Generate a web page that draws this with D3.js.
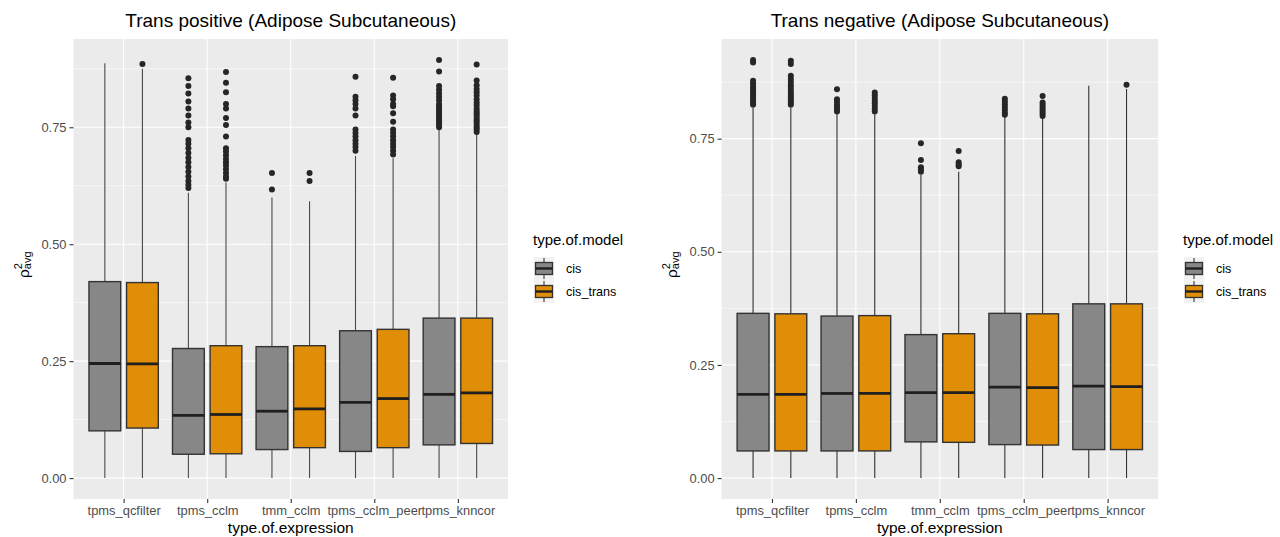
<!DOCTYPE html>
<html>
<head>
<meta charset="utf-8">
<script src="https://cdn.jsdelivr.net/npm/d3@7"></script>
<style>
  body { margin: 0; background: #fff; }
  text { font-family: "Liberation Sans", Arial, sans-serif; }
</style>
</head>
<body>
<div id="chart"></div>
<script>
const expressionTypes = ["tpms_qcfilter", "tpms_cclm", "tmm_cclm", "tpms_cclm_peer", "tpms_knncor"];
const modelTypes = ["cis", "cis_trans"];
const modelColors = ["#878787", "#E08D07"];
const yTicks = [0, 0.25, 0.5, 0.75];
const yTickLabels = ["0.00", "0.25", "0.50", "0.75"];

// each array: cis, cis_trans for every expression type in order
const posQ1 = [0.101, 0.107, 0.051, 0.052, 0.061, 0.065, 0.057, 0.065, 0.071, 0.074];
const posMedian = [0.245, 0.244, 0.134, 0.136, 0.143, 0.148, 0.162, 0.170, 0.179, 0.182];
const posQ3 = [0.420, 0.418, 0.277, 0.283, 0.281, 0.283, 0.315, 0.318, 0.342, 0.342];
const posLow = [0, 0, 0, 0, 0, 0, 0, 0, 0, 0];
const posHigh = [0.887, 0.875, 0.610, 0.632, 0.600, 0.592, 0.689, 0.684, 0.744, 0.735];
const posOutliers = [
  [],
  [0.885],
  [0.855, 0.838, 0.822, 0.805, 0.79, 0.775, 0.76, 0.75, 0.723, 0.715, 0.705, 0.695, 0.685, 0.675, 0.665, 0.655, 0.645, 0.635, 0.627, 0.62],
  [0.868, 0.845, 0.825, 0.80, 0.79, 0.77, 0.755, 0.73, 0.705, 0.698, 0.69, 0.682, 0.675, 0.668, 0.66, 0.652, 0.645, 0.64],
  [0.652, 0.617],
  [0.652, 0.635],
  [0.858, 0.815, 0.808, 0.80, 0.79, 0.775, 0.745, 0.738, 0.73, 0.722, 0.715, 0.708, 0.70],
  [0.856, 0.818, 0.81, 0.80, 0.795, 0.78, 0.762, 0.745, 0.738, 0.73, 0.722, 0.715, 0.708, 0.70, 0.692],
  [0.894, 0.869, 0.838, 0.83, 0.822, 0.815, 0.808, 0.80, 0.795, 0.79, 0.785, 0.78, 0.775, 0.77, 0.765, 0.76, 0.755, 0.75],
  [0.884, 0.85, 0.84, 0.832, 0.825, 0.818, 0.81, 0.803, 0.797, 0.79, 0.785, 0.78, 0.775, 0.77, 0.765, 0.76, 0.755, 0.75, 0.745, 0.74]
];

const negQ1 = [0.060, 0.060, 0.060, 0.060, 0.080, 0.079, 0.074, 0.073, 0.063, 0.063];
const negMedian = [0.185, 0.185, 0.187, 0.187, 0.189, 0.189, 0.201, 0.200, 0.203, 0.202];
const negQ3 = [0.364, 0.363, 0.358, 0.359, 0.317, 0.319, 0.364, 0.363, 0.385, 0.385];
const negLow = [0, 0, 0, 0, 0, 0, 0, 0, 0, 0];
const negHigh = [0.818, 0.818, 0.804, 0.804, 0.670, 0.677, 0.798, 0.795, 0.867, 0.860];
const negOutliers = [
  [0.924, 0.918, 0.878, 0.872, 0.865, 0.86, 0.855, 0.85, 0.845, 0.84, 0.835, 0.83, 0.825],
  [0.922, 0.915, 0.889, 0.882, 0.875, 0.868, 0.862, 0.856, 0.85, 0.845, 0.84, 0.835, 0.83, 0.825],
  [0.859, 0.837, 0.831, 0.825, 0.82, 0.815, 0.81],
  [0.852, 0.846, 0.84, 0.834, 0.828, 0.822, 0.816, 0.81],
  [0.740, 0.703, 0.687, 0.682, 0.677],
  [0.723, 0.698, 0.693, 0.689],
  [0.838, 0.832, 0.826, 0.82, 0.814, 0.808, 0.803],
  [0.844, 0.83, 0.825, 0.82, 0.815, 0.81, 0.805, 0.80],
  [],
  [0.869]
];

const width = 1280;
const height = 537;

const svg = d3.select("#chart")
  .append("svg")
  .attr("width", width)
  .attr("height", height);

function drawPanel(p) {
  const top = 39, bottom = 499;

  // y domain like ggplot: data range + 5% each side
  const all = p.low.concat(p.high, p.outliers.flat());
  const [mn, mx] = d3.extent(all);
  const pad = (mx - mn) * 0.05;
  const y = d3.scaleLinear().domain([mn - pad, mx + pad]).range([bottom, top]);

  const x = d3.scalePoint()
    .domain(expressionTypes)
    .range([p.left, p.right])
    .padding(0.6);
  const step = x.step();
  const dodge = d3.scalePoint().domain(modelTypes).range([-0.225 * step, 0.225 * step]);
  const boxW = 0.38 * step;

  const g = svg.append("g");

  // panel background + grid
  g.append("rect")
    .attr("x", p.left).attr("y", top)
    .attr("width", p.right - p.left).attr("height", bottom - top)
    .attr("fill", "#EBEBEB");

  const minor = d3.range(0.125, y.domain()[1], 0.25);
  g.selectAll(".minor").data(minor).enter().append("line")
    .attr("x1", p.left).attr("x2", p.right)
    .attr("y1", d => y(d)).attr("y2", d => y(d))
    .attr("stroke", "#fff").attr("stroke-width", 0.55);

  g.selectAll(".hgrid").data(yTicks).enter().append("line")
    .attr("x1", p.left).attr("x2", p.right)
    .attr("y1", d => y(d)).attr("y2", d => y(d))
    .attr("stroke", "#fff").attr("stroke-width", 1.1);

  g.selectAll(".vgrid").data(expressionTypes).enter().append("line")
    .attr("x1", d => x(d)).attr("x2", d => x(d))
    .attr("y1", top).attr("y2", bottom)
    .attr("stroke", "#fff").attr("stroke-width", 1.1);

  // boxes
  const boxes = [];
  expressionTypes.forEach((e, i) => {
    modelTypes.forEach((m, j) => {
      const k = i * 2 + j;
      boxes.push({
        cx: x(e) + dodge(m), color: modelColors[j],
        q1: p.q1[k], med: p.median[k], q3: p.q3[k],
        lo: p.low[k], hi: p.high[k], out: p.outliers[k]
      });
    });
  });

  const bg = g.selectAll(".box").data(boxes).enter().append("g");

  bg.append("line")
    .attr("x1", d => d.cx).attr("x2", d => d.cx)
    .attr("y1", d => y(d.hi)).attr("y2", d => y(d.q3))
    .attr("stroke", p.whisker).attr("stroke-width", 1.1);
  bg.append("line")
    .attr("x1", d => d.cx).attr("x2", d => d.cx)
    .attr("y1", d => y(d.q1)).attr("y2", d => y(d.lo))
    .attr("stroke", p.whisker).attr("stroke-width", 1.1);

  bg.append("rect")
    .attr("x", d => d.cx - boxW / 2)
    .attr("y", d => y(d.q3))
    .attr("width", boxW)
    .attr("height", d => y(d.q1) - y(d.q3))
    .attr("fill", d => d.color)
    .attr("stroke", "#333")
    .attr("stroke-width", 1.4);

  bg.append("line")
    .attr("x1", d => d.cx - boxW / 2).attr("x2", d => d.cx + boxW / 2)
    .attr("y1", d => y(d.med)).attr("y2", d => y(d.med))
    .attr("stroke", "#1f1f1f").attr("stroke-width", 2.8);

  bg.selectAll(".out")
    .data(d => d.out.map(v => ({ cx: d.cx, v })))
    .enter().append("circle")
    .attr("cx", d => d.cx)
    .attr("cy", d => y(d.v))
    .attr("r", 3)
    .attr("fill", "#262626");

  // axes
  const yAxis = g.append("g")
    .attr("transform", `translate(${p.left},0)`)
    .call(d3.axisLeft(y).tickValues(yTicks).tickFormat((d, i) => yTickLabels[i]).tickSize(4).tickPadding(3));
  const xAxis = g.append("g")
    .attr("transform", `translate(0,${bottom})`)
    .call(d3.axisBottom(x).tickSize(4).tickPadding(3));
  [yAxis, xAxis].forEach(a => {
    a.select(".domain").remove();
    a.selectAll(".tick line").attr("stroke", "#333").attr("stroke-width", 1.1);
    a.selectAll(".tick text")
      .attr("fill", "#4D4D4D")
      .style("font-size", "12.9px")
      .style("font-family", "'Liberation Sans', Arial, sans-serif");
  });

  // titles
  const cx = (p.left + p.right) / 2;
  g.append("text")
    .attr("x", cx).attr("y", 27)
    .attr("text-anchor", "middle")
    .style("font-size", "19px")
    .text(p.title);

  g.append("text")
    .attr("x", cx).attr("y", 533)
    .attr("text-anchor", "middle")
    .style("font-size", "15.5px")
    .text("type.of.expression");

  const yt = g.append("text")
    .attr("transform", `translate(${p.left - 45},${(top + bottom) / 2 + 9}) rotate(-90)`)
    .style("font-size", "15.5px");
  yt.append("tspan").text("ρ");
  yt.append("tspan").attr("dy", -7).style("font-size", "11px").text("2");
  yt.append("tspan").attr("dx", -6.1).attr("dy", 9).style("font-size", "11px").text("avg");

  // legend
  const lg = g.append("g").attr("transform", `translate(${p.legendX},0)`);
  lg.append("text")
    .attr("x", 0).attr("y", 245)
    .style("font-size", "15px")
    .text("type.of.model");

  modelTypes.forEach((m, j) => {
    const ky = 257 + j * 23;
    lg.append("rect")
      .attr("x", 1).attr("y", ky).attr("width", 20).attr("height", 23)
      .attr("fill", "#F2F2F2");
    lg.append("line")
      .attr("x1", 11).attr("x2", 11).attr("y1", ky + 1).attr("y2", ky + 22)
      .attr("stroke", "#333").attr("stroke-width", 1.1);
    lg.append("rect")
      .attr("x", 2.5).attr("y", ky + 5.5).attr("width", 17).attr("height", 12)
      .attr("fill", modelColors[j]).attr("stroke", "#333").attr("stroke-width", 1.3);
    lg.append("line")
      .attr("x1", 2.5).attr("x2", 19.5).attr("y1", ky + 11.5).attr("y2", ky + 11.5)
      .attr("stroke", "#1f1f1f").attr("stroke-width", 2.4);
    lg.append("text")
      .attr("x", 33).attr("y", ky + 11.5)
      .attr("dy", "0.35em")
      .style("font-size", "12.6px")
      .text(m);
  });
}

drawPanel({
  title: "Trans positive (Adipose Subcutaneous)",
  left: 73.5, right: 508, legendX: 533, whisker: "#4a4a4a",
  q1: posQ1, median: posMedian, q3: posQ3, low: posLow, high: posHigh, outliers: posOutliers
});

drawPanel({
  title: "Trans negative (Adipose Subcutaneous)",
  left: 721.6, right: 1158, legendX: 1183, whisker: "#333",
  q1: negQ1, median: negMedian, q3: negQ3, low: negLow, high: negHigh, outliers: negOutliers
});
</script>
</body>
</html>
